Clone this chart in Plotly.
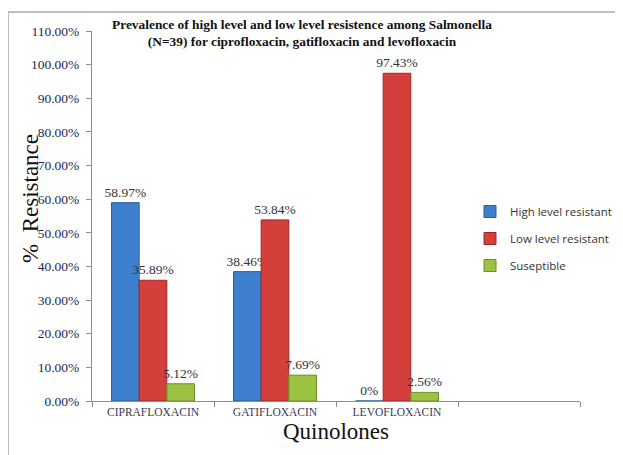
import plotly.graph_objects as go

categories = ["CIPRAFLOXACIN", "GATIFLOXACIN", "LEVOFLOXACIN"]
high_level = [58.97, 38.46, 0]
low_level = [35.89, 53.84, 97.43]
susceptible = [5.12, 7.69, 2.56]
series_names = ["High level resistant", "Low level resistant", "Suseptible"]
colors = ["#3F7FCF", "#D43F3B", "#9BC240"]
edge_colors = ["#2C5C9A", "#9A2A27", "#6F8C2C"]
y_ticks = [0, 10, 20, 30, 40, 50, 60, 70, 80, 90, 100, 110]
y_tick_labels = [f"{v:.2f}%" for v in y_ticks]

fig = go.Figure()
for i, (name, vals) in enumerate(zip(series_names, [high_level, low_level, susceptible])):
    fig.add_trace(go.Bar(
        x=categories, y=vals, name=name,
        marker=dict(color=colors[i], line=dict(color=edge_colors[i], width=1)),
        text=[f"{v:g}%" for v in vals], textposition="outside", constraintext="none",
        outsidetextfont=dict(family="Liberation Serif", size=13.5, color="#333333"),
        cliponaxis=False, legendgroup=name,
    ))

# page body has an 8px default margin: figure is sized so that it ends at the window edge
OFF = 8
W, H = 623 - OFF, 455 - OFF
# plot area in window pixels
PL, PR, PT, PB = 92, 580, 31, 401
L, R, T, B = PL - OFF, W - (PR - OFF), PT - OFF, H - (PB - OFF)
pw, ph = PR - PL, PB - PT

def px_x(p):
    return (p - PL) / pw

def px_y(p):
    return (PB - p) / ph

fig.update_layout(
    width=W, height=H,
    margin=dict(l=L, r=R, t=T, b=B, autoexpand=False),
    paper_bgcolor="white", plot_bgcolor="white",
    barmode="group", bargap=0.32, bargroupgap=0,
    showlegend=True,
    legend=dict(x=px_x(470), y=px_y(197), xanchor="left", yanchor="top",
                font=dict(family="Open Sans", size=11.5, color="#333333"),
                tracegroupgap=8, bgcolor="rgba(0,0,0,0)", itemwidth=30),
    xaxis=dict(
        categoryorder="array", categoryarray=categories + [" "],
        range=[-0.5, 3.5], tickson="boundaries", ticks="outside", ticklen=5,
        tickcolor="#8C8C8C", showline=True, linecolor="#8C8C8C", linewidth=1,
        tickfont=dict(family="Liberation Serif", size=11.5, color="#3A3A55"),
        title=dict(text="Quinolones", font=dict(family="Liberation Serif", size=23, color="#111111"), standoff=6),
        showgrid=False, automargin=False,
    ),
    yaxis=dict(
        range=[0, 110], tickvals=y_ticks, ticktext=y_tick_labels,
        ticks="outside", ticklen=5, tickcolor="#8C8C8C", ticklabelstandoff=4,
        showline=True, linecolor="#8C8C8C", linewidth=1, showgrid=False, zeroline=False,
        tickfont=dict(family="Liberation Serif", size=13.5, color="#26264F"), automargin=False,
    ),
    annotations=[
        dict(
            text="<b>Prevalence of high level and low level resistence among Salmonella<br>(N=39) for ciprofloxacin, gatifloxacin and levofloxacin</b>",
            x=px_x(302), y=px_y(33), xref="paper", yref="paper", xanchor="center", yanchor="middle",
            showarrow=False, font=dict(family="Liberation Serif", size=13.4, color="#111111"),
        ),
        dict(
            text="%  Resistance", textangle=-90,
            x=px_x(30), y=px_y(199), xref="paper", yref="paper", xanchor="center", yanchor="middle",
            showarrow=False, font=dict(family="Liberation Serif", size=23, color="#111111"),
        ),
    ],
    shapes=[dict(type="rect", xref="paper", yref="paper",
                 x0=px_x(8), x1=px_x(640), y0=px_y(470), y1=px_y(12),
                 line=dict(color="#BFBFBF", width=2), layer="below")],
)

fig.write_html("out.html")
